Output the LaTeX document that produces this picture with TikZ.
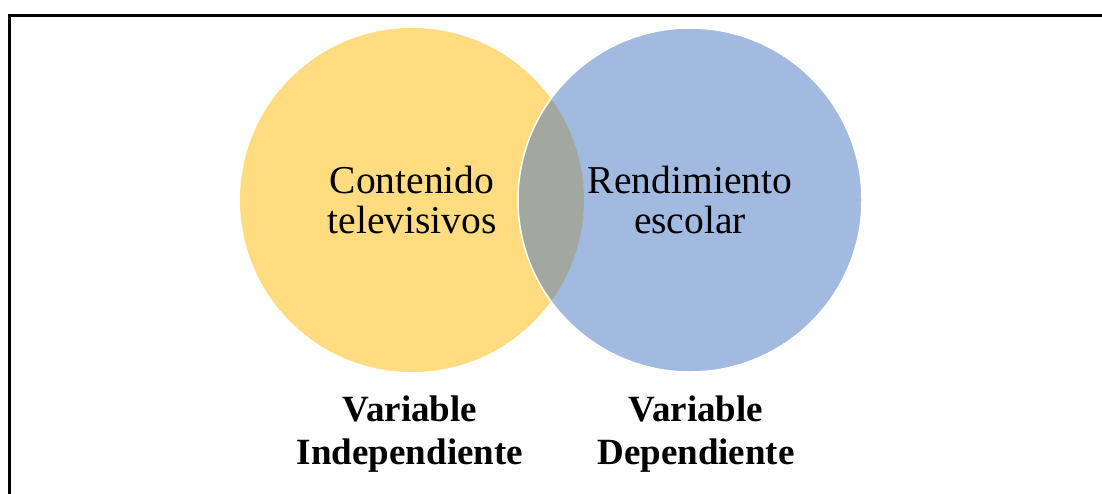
\documentclass[tikz,border=0pt]{standalone}
\usepackage{fontspec}
\setmainfont{Liberation Serif}
\definecolor{yel}{RGB}{255,220,128}
\definecolor{blu}{RGB}{162,185,224}
\definecolor{lens}{RGB}{162,168,160}
\tikzset{
  circtext/.style={align=center, inner sep=0pt, font=\fontsize{39.5}{40}\selectfont},
  vartext/.style={align=center, inner sep=0pt, font=\fontsize{37}{43}\selectfont\bfseries},
}
\begin{document}
\begin{tikzpicture}[x=1pt,y=-1pt]
\useasboundingbox (0,0) rectangle (1102,493);
\clip (0,0) rectangle (1102,493);
\fill[white] (0,0) rectangle (1102,493);
\draw[line width=2.6pt] (9.5,15.5) rectangle (1120,520);
\fill[yel] (412,200) circle (172pt);
\fill[blu] (690,200) circle (172pt);
\begin{scope}
  \clip (412,200) circle (172pt);
  \fill[lens] (690,200) circle (172pt);
\end{scope}
\draw[white, line width=1.5pt] (690,200) circle (172pt);
\node[circtext] (a) at (412,200) {Contenido\\televisivos};
\node[circtext] (b) at (690,200) {Rendimiento\\escolar};
\node[vartext] (va) at (410,434) {Variable\\Independiente};
\node[vartext] (vb) at (696,434) {Variable\\Dependiente};
\end{tikzpicture}
\end{document}
